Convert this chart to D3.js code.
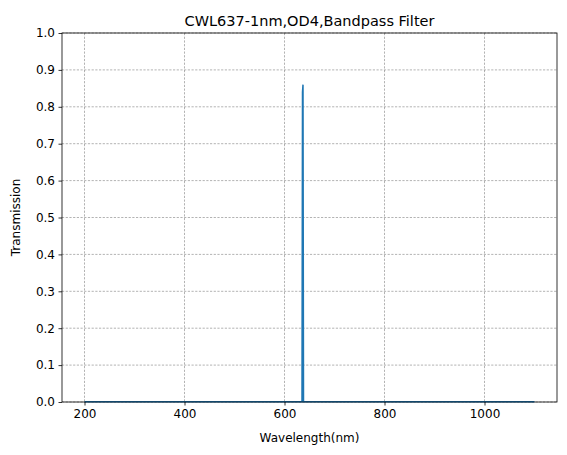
<!DOCTYPE html><html><head><script src="https://cdn.jsdelivr.net/npm/d3@7"></script>
<style>body{margin:0;background:#fff}text{font-family:"DejaVu Sans",sans-serif}</style></head><body>
<svg id="c" width="567" height="455"></svg>
<script>
const wavelengths=[200,635,636,637,638,639,1100];
const transmission=[0.001,0.001,0.84,0.86,0.001,0.001,0.001];
const xTicks=[200,400,600,800,1000];
const yTicks=[0,0.1,0.2,0.3,0.4,0.5,0.6,0.7,0.8,0.9,1.0];
const svg=d3.select("#c");
const L=62,R=557,T=33,B=402;
const x=d3.scaleLinear().domain([155,1145]).range([L,R]);
const y=d3.scaleLinear().domain([0,1]).range([B,T]);
const g=svg.append("g");
g.selectAll(".gx").data(xTicks).join("line").attr("x1",d=>x(d)).attr("x2",d=>x(d)).attr("y1",T).attr("y2",B).attr("stroke","#808080").attr("stroke-width",0.6).attr("stroke-dasharray","2.2,1.5");
g.selectAll(".gy").data(yTicks).join("line").attr("y1",d=>y(d)).attr("y2",d=>y(d)).attr("x1",L).attr("x2",R).attr("stroke","#808080").attr("stroke-width",0.6).attr("stroke-dasharray","2.2,1.5");
const pts=wavelengths.map((w,i)=>[w,transmission[i]]);
svg.append("path").datum(pts).attr("d",d3.line().x(d=>x(d[0])).y(d=>y(d[1]))).attr("fill","none").attr("stroke","#1f77b4").attr("stroke-width",1.5);
svg.append("rect").attr("x",L).attr("y",T).attr("width",R-L).attr("height",B-T).attr("fill","none").attr("stroke","#000").attr("stroke-width",0.8);
const xa=svg.append("g").attr("transform",`translate(0,${B})`).call(d3.axisBottom(x).tickValues(xTicks).tickFormat(d3.format("d")).tickSize(3.5).tickPadding(3.5));
const ya=svg.append("g").attr("transform",`translate(${L},0)`).call(d3.axisLeft(y).tickValues(yTicks).tickFormat(d3.format(".1f")).tickSize(3.5).tickPadding(3.5));
[xa,ya].forEach(a=>{a.select(".domain").remove();a.selectAll("text").attr("font-size",12).attr("fill","#000").style("font-family","DejaVu Sans");a.selectAll("line").attr("stroke","#000").attr("stroke-width",0.8);});
svg.append("text").attr("x",(L+R)/2).attr("y",442).attr("text-anchor","middle").attr("font-size",12).text("Wavelength(nm)");
svg.append("text").attr("transform",`translate(20,${(T+B)/2}) rotate(-90)`).attr("text-anchor","middle").attr("font-size",12).text("Transmission");
svg.append("text").attr("x",(L+R)/2).attr("y",26).attr("text-anchor","middle").attr("font-size",14.5).text("CWL637-1nm,OD4,Bandpass Filter");
</script></body></html>
